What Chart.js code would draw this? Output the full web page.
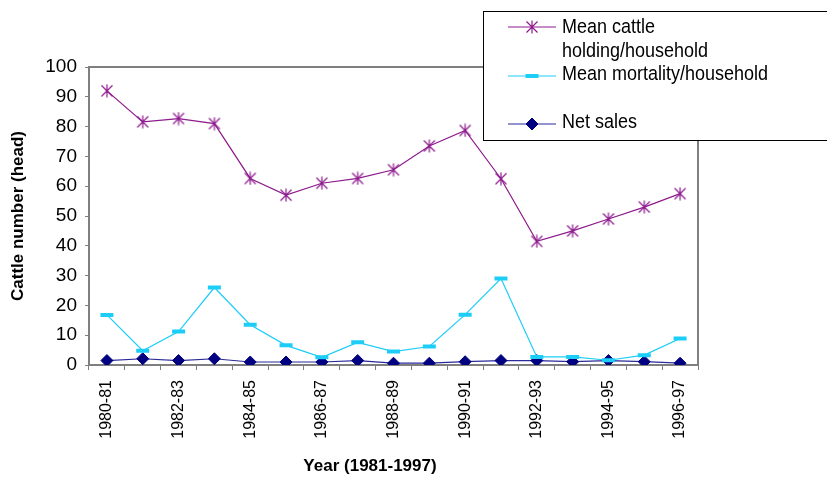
<!DOCTYPE html>
<html>
<head>
<meta charset="utf-8">
<script src="https://cdn.jsdelivr.net/npm/chart.js@4/dist/chart.umd.min.js"></script>
<style>
  html, body { margin: 0; padding: 0; background: #fff; }
  #wrap { width: 827px; height: 479px; }
</style>
</head>
<body>
<div id="wrap"><canvas id="c" width="827" height="479"></canvas></div>
<script>
// Survey periods, one per farming year
const periods = ['1980-81', '1981-82', '1982-83', '1983-84', '1984-85', '1985-86', '1986-87', '1987-88',
  '1988-89', '1989-90', '1990-91', '1991-92', '1992-93', '1993-94', '1994-95', '1995-96', '1996-97'];

// Mean cattle holding per household (head)
const meanHolding = [92, 81.6, 82.7, 81, 62.6, 57, 61, 62.6, 65.5, 73.5, 78.7, 62.5, 41.5, 45, 49, 53, 57.5];
// Mean mortality per household (head)
const meanMortality = [16.8, 4.8, 11.2, 26, 13.5, 6.6, 2.6, 7.6, 4.5, 6.2, 16.9, 29, 2.7, 2.7, 1.6, 3.3, 8.9];
// Net sales (head)
const netSales = [1.5, 2.1, 1.5, 2.1, 1.0, 1.0, 1.0, 1.5, 0.6, 0.6, 1.1, 1.5, 1.5, 1.1, 1.5, 1.1, 0.6];

const yTicks = [0, 10, 20, 30, 40, 50, 60, 70, 80, 90, 100];

const legendLines = [
  ['Mean cattle', 'holding/household'],
  ['Mean mortality/household'],
  ['Net sales']
];

const FONT = '"Liberation Sans", Arial, sans-serif';
const PURPLE = '#8e1a8e';
const CYAN = '#1ccdf8';
const NAVY = '#000080';
const AXIS = '#7f7f7f';

// Asterisk marker: an X crossed by a vertical stroke
function makeStar(color) {
  const s = 14;
  const cv = document.createElement('canvas');
  cv.width = s; cv.height = s;
  const g = cv.getContext('2d');
  g.strokeStyle = color;
  g.lineWidth = 1.2;
  g.beginPath();
  g.moveTo(1.5, 1.5); g.lineTo(s - 1.5, s - 1.5);
  g.moveTo(s - 1.5, 1.5); g.lineTo(1.5, s - 1.5);
  g.moveTo(s / 2, 0.5); g.lineTo(s / 2, s - 0.5);
  g.stroke();
  return cv;
}
const starMarker = makeStar(PURPLE);

// Grey frame on the top and right of the plot area
const frame = {
  id: 'frame',
  beforeDatasetsDraw(chart) {
    const { ctx, chartArea: a } = chart;
    ctx.save();
    ctx.strokeStyle = AXIS;
    ctx.lineWidth = 2;
    ctx.beginPath();
    ctx.moveTo(a.left, a.top);
    ctx.lineTo(a.right, a.top);
    ctx.lineTo(a.right, a.bottom);
    ctx.stroke();
    ctx.restore();
  }
};

// Boxed legend in the top-right corner plus the x-axis caption
const boxLegend = {
  id: 'boxLegend',
  afterDraw(chart) {
    const ctx = chart.ctx;
    ctx.save();
    ctx.fillStyle = '#fff';
    ctx.fillRect(483.5, 11.5, 360, 129);
    ctx.strokeStyle = '#000';
    ctx.lineWidth = 1;
    ctx.strokeRect(483.5, 11.5, 360, 129);

    const rows = [27, 76, 124];
    const textRows = [[27, 51], [74], [122]];
    chart.data.datasets.forEach((ds, i) => {
      const y = rows[i];
      ctx.strokeStyle = ds.borderColor;
      ctx.lineWidth = ds.borderWidth;
      ctx.beginPath();
      ctx.moveTo(508, y);
      ctx.lineTo(556, y);
      ctx.stroke();
      ctx.fillStyle = ds.pointBackgroundColor;
      ctx.strokeStyle = ds.pointBorderColor;
      ctx.lineWidth = ds.pointBorderWidth;
      Chart.helpers.drawPoint(ctx, {
        pointStyle: ds.pointStyle,
        radius: ds.pointRadius,
        borderWidth: ds.pointBorderWidth,
        rotation: 0
      }, 532, y);

      ctx.fillStyle = '#000';
      ctx.font = '18px ' + FONT;
      ctx.textBaseline = 'middle';
      ctx.textAlign = 'left';
      legendLines[i].forEach((t, k) => {
        ctx.save();
        ctx.translate(562, textRows[i][k]);
        ctx.scale(1, 1.15);
        ctx.fillText(t, 0, 0);
        ctx.restore();
      });
    });

    // x-axis caption
    ctx.fillStyle = '#000';
    ctx.font = 'bold 17px ' + FONT;
    ctx.textAlign = 'center';
    ctx.textBaseline = 'middle';
    ctx.fillText('Year (1981-1997)', 370, 466);
    ctx.restore();
  }
};

new Chart(document.getElementById('c'), {
  type: 'line',
  data: {
    labels: periods,
    datasets: [
      {
        label: 'Mean cattle holding/household',
        data: meanHolding,
        borderColor: PURPLE,
        borderWidth: 1.2,
        pointStyle: starMarker,
        pointRadius: 7,
        pointBorderColor: PURPLE,
        pointBackgroundColor: PURPLE,
        pointBorderWidth: 1,
        tension: 0
      },
      {
        label: 'Mean mortality/household',
        data: meanMortality,
        borderColor: CYAN,
        borderWidth: 1.2,
        pointStyle: 'line',
        pointRadius: 6.5,
        pointBorderWidth: 4,
        pointBorderColor: CYAN,
        pointBackgroundColor: CYAN,
        tension: 0
      },
      {
        label: 'Net sales',
        data: netSales,
        borderColor: '#2a2a9a',
        borderWidth: 1.2,
        pointStyle: 'rectRot',
        pointRadius: 6,
        pointBorderWidth: 1,
        pointBorderColor: NAVY,
        pointBackgroundColor: NAVY,
        tension: 0
      }
    ]
  },
  options: {
    responsive: false,
    animation: false,
    events: [],
    layout: { padding: { left: 0, top: 67, right: 129, bottom: 0 } },
    plugins: { legend: { display: false }, tooltip: { enabled: false } },
    scales: {
      x: {
        type: 'category',
        offset: true,
        afterFit(s) { s.height = 114; },
        grid: { offset: true, drawOnChartArea: false, drawTicks: true, tickLength: 5, color: AXIS, lineWidth: 1 },
        border: { color: AXIS, width: 2 },
        ticks: {
          autoSkip: false,
          minRotation: 90,
          maxRotation: 90,
          padding: 10,
          color: '#000',
          font: { family: FONT, size: 16 },
          callback(v, i) { return i % 2 === 0 ? periods[i] : ''; }
        }
      },
      y: {
        min: 0,
        max: 100,
        afterFit(s) { s.width = 89; },
        afterBuildTicks(s) { s.ticks = yTicks.map(v => ({ value: v })); },
        grid: { drawOnChartArea: false, drawTicks: true, tickLength: 4, color: AXIS, lineWidth: 1 },
        border: { color: AXIS, width: 2 },
        ticks: {
          padding: 8,
          color: '#000',
          font: { family: FONT, size: 19 }
        },
        title: {
          display: true,
          text: 'Cattle number (head)',
          color: '#000',
          font: { family: FONT, size: 17, weight: 'bold' },
          padding: { top: 8, bottom: 0 }
        }
      }
    }
  },
  plugins: [frame, boxLegend]
});
</script>
</body>
</html>
